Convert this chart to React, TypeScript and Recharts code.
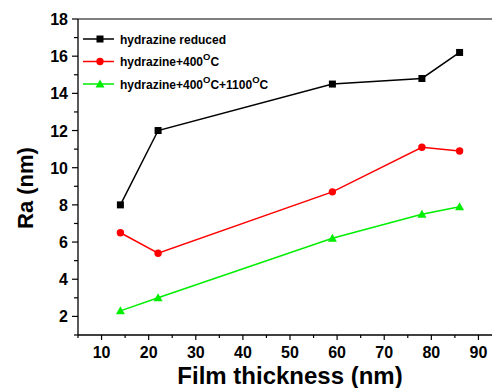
import React from 'react';
import { LineChart, Line, XAxis, YAxis, ReferenceLine } from 'recharts';

// Film thickness (nm)
const thickness = [14, 22, 59, 78, 86];

// Ra (nm) per treatment
const hydrazineReduced = [8.0, 12.0, 14.5, 14.8, 16.2];
const hydrazine400 = [6.5, 5.4, 8.7, 11.1, 10.9];
const hydrazine400_1100 = [2.3, 3.0, 6.2, 7.5, 7.9];

const xTicks = [5, 10, 15, 20, 25, 30, 35, 40, 45, 50, 55, 60, 65, 70, 75, 80, 85, 90, 95];
const yTicks = [1, 2, 3, 4, 5, 6, 7, 8, 9, 10, 11, 12, 13, 14, 15, 16, 17, 18];

const data = thickness.map((t, i) => ({
  t,
  reduced: hydrazineReduced[i],
  h400: hydrazine400[i],
  h1100: hydrazine400_1100[i]
}));

const FONT = '"Liberation Sans", Arial, sans-serif';

const XTick = (props: any) => {
  const { x, y, payload } = props;
  const major = payload.value % 10 === 0;
  return (
    <g>
      <line x1={x} x2={x} y1={y} y2={y + (major ? 5 : 3)} stroke="#000" strokeWidth={1.2} />
      {major && (
        <text x={x} y={y + 23} textAnchor="middle" fontFamily={FONT} fontWeight="bold" fontSize={16} fill="#000">
          {payload.value}
        </text>
      )}
    </g>
  );
};

const YTick = (props: any) => {
  const { x, y, payload } = props;
  const major = payload.value % 2 === 0;
  return (
    <g>
      <line x1={x - (major ? 6 : 4)} x2={x} y1={y} y2={y} stroke="#000" strokeWidth={1.2} />
      {major && (
        <text x={x - 10} y={y + 6} textAnchor="end" fontFamily={FONT} fontWeight="bold" fontSize={16} fill="#000">
          {payload.value}
        </text>
      )}
    </g>
  );
};

const Square = (props: any) => {
  const { cx, cy } = props;
  return <rect x={cx - 3.5} y={cy - 3.5} width={7} height={7} fill="#000" />;
};
const Circle = (props: any) => {
  const { cx, cy } = props;
  return <circle cx={cx} cy={cy} r={3.7} fill="#ff0000" />;
};
const Triangle = (props: any) => {
  const { cx, cy } = props;
  return <path d={`M${cx},${cy - 4.5} L${cx + 4.5},${cy + 3.5} L${cx - 4.5},${cy + 3.5} Z`} fill="#00ee00" />;
};

const legendRows = [
  { name: ['hydrazine reduced'], color: '#000', marker: 'square' },
  { name: ['hydrazine+400', 'C'], color: '#ff0000', marker: 'circle' },
  { name: ['hydrazine+400', 'C+1100', 'C'], color: '#00ee00', marker: 'triangle' }
];

function LegendBox() {
  return (
    <svg width={220} height={100} style={{ position: 'absolute', left: 78, top: 20 }}>
      {legendRows.map((row, i) => {
        const y = 19 + i * 22.5;
        const cx = 22;
        return (
          <g key={i}>
            <line x1={5} x2={36} y1={y} y2={y} stroke={row.color} strokeWidth={1.5} />
            {row.marker === 'square' && <Square cx={cx} cy={y} />}
            {row.marker === 'circle' && <Circle cx={cx} cy={y} />}
            {row.marker === 'triangle' && <Triangle cx={cx} cy={y} />}
            <text x={42} y={y + 4.5} fontFamily={FONT} fontWeight="bold" fontSize={12} fill="#000">
              {row.name.map((part, j) => (
                <React.Fragment key={j}>
                  {j > 0 && (
                    <tspan dy={-6} fontSize={9.5}>O</tspan>
                  )}
                  <tspan dy={j > 0 ? 6 : 0}>{part}</tspan>
                </React.Fragment>
              ))}
            </text>
          </g>
        );
      })}
    </svg>
  );
}

export default function App() {
  return (
    <div style={{ position: 'fixed', left: 0, top: 0, width: 492, height: 388, overflow: 'hidden', background: '#fff' }}>
      <LineChart width={502} height={388} data={data} margin={{ top: 19, right: 0, bottom: 0, left: 0 }}>
        <XAxis
          dataKey="t"
          type="number"
          domain={[5, 95]}
          ticks={xTicks}
          interval={0}
          height={53}
          tickSize={0}
          tickMargin={0}
          tickLine={false}
          tick={<XTick />}
          axisLine={{ stroke: '#000', strokeWidth: 1.3 }}
        />
        <YAxis
          type="number"
          domain={[1, 18]}
          ticks={yTicks}
          interval={0}
          width={78}
          tickSize={0}
          tickMargin={0}
          tickLine={false}
          tick={<YTick />}
          axisLine={{ stroke: '#000', strokeWidth: 1.3 }}
        />
        <ReferenceLine y={18} stroke="#000" strokeWidth={1.2} />
        <Line dataKey="reduced" stroke="#000" strokeWidth={1.5} dot={<Square />} isAnimationActive={false} />
        <Line dataKey="h400" stroke="#ff0000" strokeWidth={1.5} dot={<Circle />} isAnimationActive={false} />
        <Line dataKey="h1100" stroke="#00ee00" strokeWidth={1.5} dot={<Triangle />} isAnimationActive={false} />
        <text x={290} y={384} textAnchor="middle" fontFamily={FONT} fontWeight="bold" fontSize={24} fill="#000">
          Film thickness (nm)
        </text>
        <text
          x={25}
          y={188}
          transform="rotate(-90 25 188)"
          textAnchor="middle"
          dominantBaseline="central"
          fontFamily={FONT}
          fontWeight="bold"
          fontSize={22}
          fill="#000"
        >
          Ra (nm)
        </text>
      </LineChart>
      <LegendBox />
    </div>
  );
}
